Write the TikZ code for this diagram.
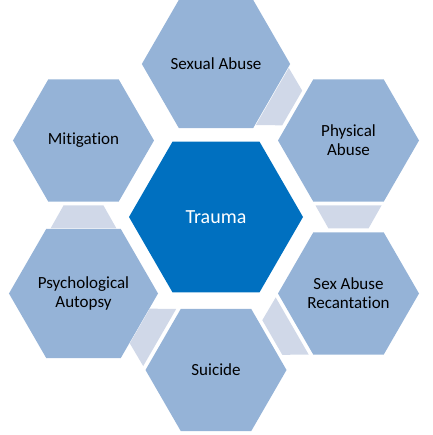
\documentclass[tikz,border=0pt]{standalone}
\usepackage{fontspec}
\setmainfont{Carlito}[Ligatures=NoCommon]
\usetikzlibrary{shapes.geometric,calc}

\definecolor{hexblue}{HTML}{95B3D7}
\definecolor{coreblue}{HTML}{0070C0}
\definecolor{linkgray}{HTML}{D0D8E8}

\tikzset{
  hexcell/.style={regular polygon, regular polygon sides=6, minimum size=141pt,
    inner sep=0pt, fill=hexblue, align=center, font=\fontsize{17}{19}\selectfont},
  hexcore/.style={hexcell, minimum size=174pt, fill=coreblue, text=white,
    font=\fontsize{20}{24}\selectfont},
  link/.pic={\fill[linkgray] (-11.5,33) -- (11.5,20) -- (11.5,-20) -- (-11.5,-33) -- cycle;}
}

\begin{document}
\begin{tikzpicture}[x=1pt,y=1pt]

\useasboundingbox (-216,-218) rectangle (216,217);

\node[hexcore] (tr) at (0,0) {Trauma};

\node[hexcell] (sa) at (90:153) {Sexual Abuse};
\node[hexcell] (pa) at (30:153) {Physical\\Abuse};
\node[hexcell] (sr) at (-30:153) {Sex Abuse\\Recantation};
\node[hexcell] (su) at (-90:153) {Suicide};
\node[hexcell] (ps) at (-150:153) {Psychological\\Autopsy};
\node[hexcell] (mi) at (150:153) {Mitigation};

% links between neighbours
\pic[rotate=-30] at ($(sa)!0.5!(pa)$) {link};
\pic[rotate=-90] at ($(pa)!0.5!(sr)$) {link};
\pic[rotate=-150] at ($(sr)!0.5!(su)$) {link};
\pic[rotate=150] at ($(su)!0.5!(ps)$) {link};
\pic[rotate=90] at ($(ps)!0.5!(mi)$) {link};

\end{tikzpicture}
\end{document}
